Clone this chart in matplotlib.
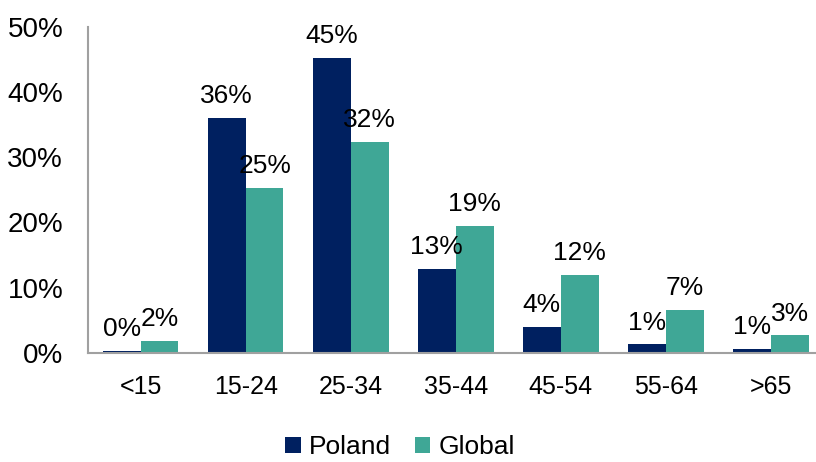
import numpy as np
import matplotlib.pyplot as plt

plt.rcParams['font.family'] = ['Liberation Sans', 'DejaVu Sans']

age_groups = ['<15', '15-24', '25-34', '35-44', '45-54', '55-64', '>65']
poland = [0.3, 36.0, 45.2, 12.9, 4.0, 1.3, 0.6]
global_ = [1.9, 25.3, 32.4, 19.5, 12.0, 6.6, 2.7]
poland_labels = ['0%', '36%', '45%', '13%', '4%', '1%', '1%']
global_labels = ['2%', '25%', '32%', '19%', '12%', '7%', '3%']

fig = plt.figure(figsize=(8.16, 4.62), dpi=100)
ax = fig.add_axes([0.108, 0.236, 0.892, 0.706])

x = np.arange(len(age_groups))
w = 0.36
b1 = ax.bar(x - w / 2, poland, w, color='#002060', label='Poland')
b2 = ax.bar(x + w / 2, global_, w, color='#3FA796', label='Global')

# value labels above each bar
for bars, labels in ((b1, poland_labels), (b2, global_labels)):
    for r, lab in zip(bars, labels):
        ax.annotate(lab, xy=(r.get_x() + r.get_width() / 2, r.get_height()),
                    xytext=(0, 7), textcoords='offset points',
                    ha='center', va='bottom', fontsize=19)

ax.set_xlim(-0.5, 6.43)
ax.set_ylim(0, 50)
ax.set_yticks(range(0, 51, 10))
ax.set_yticklabels([f'{v}%' for v in range(0, 51, 10)])
ax.set_xticks(x)
ax.set_xticklabels(age_groups)
ax.tick_params(axis='both', length=0)
ax.tick_params(axis='y', pad=18, labelsize=20)
ax.tick_params(axis='x', pad=16, labelsize=18)

for s in ('top', 'right'):
    ax.spines[s].set_visible(False)
for s in ('left', 'bottom'):
    ax.spines[s].set_color('#A0A0A0')
    ax.spines[s].set_linewidth(1.5)

fig.legend(loc='lower center', bbox_to_anchor=(0.49, 0.0), ncol=2,
           frameon=False, fontsize=19, handlelength=0.6, handleheight=0.6,
           handletextpad=0.3, columnspacing=0.9, borderpad=0.0,
           borderaxespad=0.1)

fig.savefig('out.png', dpi=100)
